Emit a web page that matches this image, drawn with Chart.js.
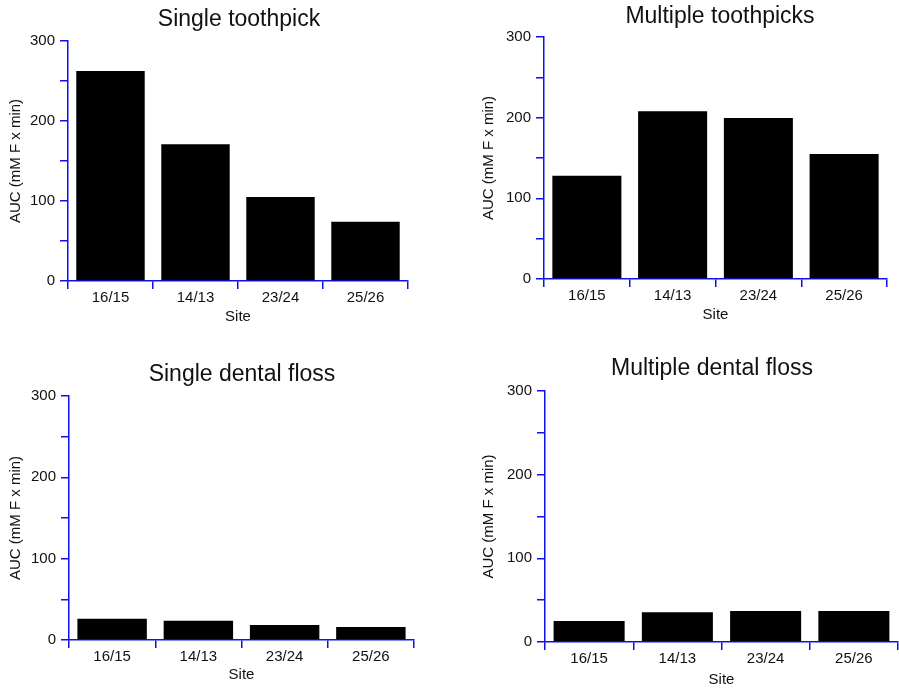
<!DOCTYPE html>
<html><head><meta charset="utf-8">
<script src="https://cdn.jsdelivr.net/npm/chart.js@4.4.1/dist/chart.umd.min.js"></script>
<style>
html,body{margin:0;padding:0;background:#fff;width:899px;height:688px;overflow:hidden;position:relative}
canvas{position:absolute}
</style></head><body>
<canvas id="c1" width="478" height="340" style="left:0px;top:0px"></canvas>
<canvas id="c2" width="480" height="340" style="left:480px;top:0px"></canvas>
<canvas id="c3" width="484" height="343" style="left:0px;top:345px"></canvas>
<canvas id="c4" width="464" height="343" style="left:480px;top:345px"></canvas>
<script>
// ---- data ----
const sites = ['16/15', '14/13', '23/24', '25/26'];
const singleToothpick = [262.5, 171, 105, 74];
const multipleToothpicks = [128, 208, 199.5, 155];
const singleDentalFloss = [26, 23.7, 18.4, 16];
const multipleDentalFloss = [25, 35.5, 37, 37];
const panelTitles = ['Single toothpick', 'Multiple toothpicks', 'Single dental floss', 'Multiple dental floss'];
const yAxisTitle = 'AUC (mM F x min)';
const xAxisTitle = 'Site';
const yMin = 0, yMax = 300, yStep = 50, yLabelEvery = 100;

// ---- style / layout ----
const FONT = "'Liberation Sans', Arial, Helvetica, sans-serif";
const AXIS = '#1010e8';
const TEXT = '#111111';
Chart.defaults.font.family = FONT;
Chart.defaults.color = TEXT;

const layouts = [
  {id: 'c1', values: singleToothpick, pad: {left: 0, right: 0, top: 0, bottom: 16}, yW: 68, rW: 70, yTitlePad: 6.6, xH: 43,
   title: {top: 6, bottom: 7.4}},
  {id: 'c2', values: multipleToothpicks, pad: {left: 0, right: 0, top: 0, bottom: 18}, yW: 64, rW: 73, yTitlePad: 0, xH: 43,
   title: {top: 3, bottom: 6.4}},
  {id: 'c3', values: singleDentalFloss, pad: {left: 0, right: 0, top: 0, bottom: 6}, yW: 69, rW: 70, yTitlePad: 6.6, xH: 42,
   title: {top: 15.9, bottom: 7.5}},
  {id: 'c4', values: multipleDentalFloss, pad: {left: 0, right: 0, top: 0, bottom: 1.5}, yW: 65, rW: 46, yTitlePad: 0.1, xH: 44.5,
   title: {top: 10.2, bottom: 8.2}}
];

layouts.forEach((L, i) => {
  new Chart(document.getElementById(L.id), {
    type: 'bar',
    data: {
      labels: sites,
      datasets: [{
        data: L.values,
        backgroundColor: '#000000',
        borderWidth: 0,
        categoryPercentage: 1.0,
        barPercentage: 0.805
      }]
    },
    options: {
      responsive: false,
      animation: false,
      layout: {padding: L.pad},
      plugins: {
        legend: {display: false},
        tooltip: {enabled: false},
        title: {
          display: true,
          text: panelTitles[i],
          fullSize: true,
          color: TEXT,
          font: {family: FONT, size: 23, weight: 'normal'},
          padding: {top: L.title.top, bottom: L.title.bottom}
        }
      },
      scales: {
        x: {
          grid: {display: true, drawOnChartArea: false, drawTicks: true, tickLength: 8, color: AXIS, lineWidth: 1.5, offset: true},
          border: {display: true, color: AXIS, width: 1.5},
          ticks: {font: {family: FONT, size: 15}, color: TEXT, padding: 0, maxRotation: 0},
          title: {display: true, text: xAxisTitle, font: {family: FONT, size: 15}, color: TEXT, padding: {top: 0, bottom: -2}},
          afterFit: s => { s.height = L.xH; }
        },
        y: {
          min: yMin, max: yMax,
          grid: {display: true, drawOnChartArea: false, drawTicks: true, tickLength: 8, color: AXIS, lineWidth: 1.5},
          border: {display: true, color: AXIS, width: 1.5},
          ticks: {
            stepSize: yStep, autoSkip: false, padding: 5,
            font: {family: FONT, size: 15}, color: TEXT,
            callback: v => (v % yLabelEvery === 0 ? String(v) : '')
          },
          title: {display: true, text: yAxisTitle, font: {family: FONT, size: 15}, color: TEXT, padding: {top: L.yTitlePad, bottom: 0}},
          afterFit: s => { s.width = L.yW; }
        },
        // empty spacer on the right so the panel title sits where the reference has it
        spacer: {
          type: 'linear', position: 'right', display: true,
          grid: {display: false}, border: {display: false}, ticks: {display: false},
          afterFit: s => { s.width = L.rW; }
        }
      }
    }
  });
});
</script>
</body></html>
